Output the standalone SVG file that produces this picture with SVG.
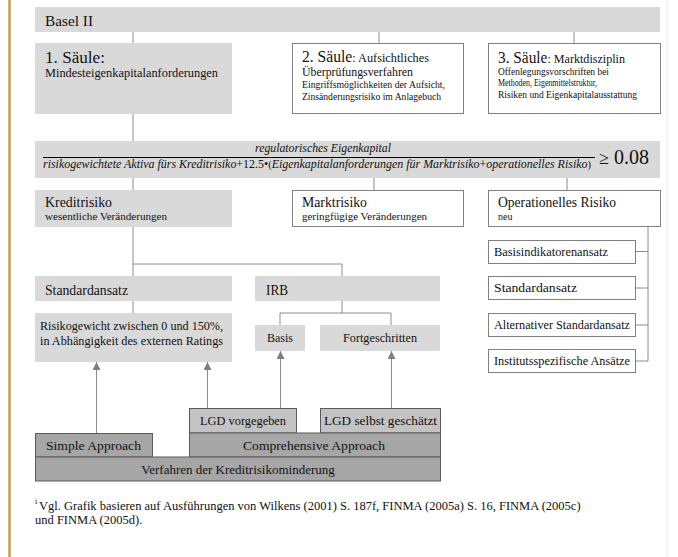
<svg xmlns="http://www.w3.org/2000/svg" width="678" height="557" viewBox="0 0 678 557">
<defs>
<style>
text{font-family:"Liberation Serif","Times New Roman",serif;fill:#111}
.g{fill:#d9d9d9}
.w{fill:#fff;stroke:#808080;stroke-width:1}
.m{fill:#c3c3c3;stroke:#5a5a5a;stroke-width:1}
.d{fill:#a6a6a6;stroke:#5a5a5a;stroke-width:1}
.ln{stroke:#8c8c8c;stroke-width:1;fill:none}
.ar{stroke:#8c8c8c;stroke-width:1;fill:none;marker-end:url(#ah)}
.it{font-style:italic}
</style>
<marker id="ah" viewBox="0 0 10 10" refX="10" refY="5" markerWidth="8" markerHeight="8" markerUnits="userSpaceOnUse" orient="auto">
<path d="M0,0 L10,5 L0,10 Z" fill="#7f7f7f"/>
</marker>
</defs>
<rect width="678" height="557" fill="#fff"/>
<line x1="9.5" y1="0" x2="9.5" y2="557" stroke="#bf9f52" stroke-width="2.5"/>
<line x1="667" y1="0" x2="667" y2="557" stroke="#ececec" stroke-width="1"/>

<g id="connectors">
<path class="ln" d="M133,32V43 M379,32V43 M574,32V43"/>
<path class="ln" d="M133,114V141 M133,178V190 M374,178V190 M567,178V190"/>
<path class="ln" d="M133,227V276 M133,264H342V276 M133,301V313 M342,301V313 M280,325V313H391V325"/>
<path class="ln" d="M648,227V361 M636,251.5H648 M636,288H648 M636,325H648 M636,361H648"/>
<line class="ar" x1="96.5" y1="433" x2="96.5" y2="362"/>
<line class="ar" x1="207.5" y1="408" x2="207.5" y2="362"/>
<line class="ar" x1="280.5" y1="408" x2="280.5" y2="351"/>
<line class="ar" x1="391.5" y1="408" x2="391.5" y2="351"/>
</g>

<g id="basel2">
<rect class="g" x="35" y="7" width="625" height="25"/>
<text x="45" y="26" font-size="15" textLength="48" lengthAdjust="spacingAndGlyphs">Basel II</text>
</g>

<g id="saeule1">
<rect class="g" x="35" y="43" width="197" height="71"/>
<text x="45" y="63" font-size="16.5" textLength="60" lengthAdjust="spacingAndGlyphs">1. Säule:</text>
<text x="45" y="77" font-size="12.5" textLength="173" lengthAdjust="spacingAndGlyphs">Mindesteigenkapitalanforderungen</text>
</g>

<g id="saeule2">
<rect class="w" x="292.5" y="43.5" width="171" height="70"/>
<text x="302" y="62" textLength="127" lengthAdjust="spacingAndGlyphs"><tspan font-size="16.5">2. Säule</tspan><tspan font-size="13">: Aufsichtliches</tspan></text>
<text x="302" y="76" font-size="13" textLength="111" lengthAdjust="spacingAndGlyphs">Überprüfungsverfahren</text>
<text x="302" y="88" font-size="10" textLength="143" lengthAdjust="spacingAndGlyphs">Eingriffsmöglichkeiten der Aufsicht,</text>
<text x="302" y="100" font-size="10" textLength="139" lengthAdjust="spacingAndGlyphs">Zinsänderungsrisiko im Anlagebuch</text>
</g>

<g id="saeule3">
<rect class="w" x="488.5" y="43.5" width="172" height="70"/>
<text x="498" y="63" textLength="127" lengthAdjust="spacingAndGlyphs"><tspan font-size="16.5">3. Säule</tspan><tspan font-size="13">: Marktdisziplin</tspan></text>
<text x="498" y="75" font-size="10" textLength="111" lengthAdjust="spacingAndGlyphs">Offenlegungsvorschriften bei</text>
<text x="498" y="86" font-size="10" textLength="99" lengthAdjust="spacingAndGlyphs">Methoden, Eigenmittelstruktur,</text>
<text x="498" y="98" font-size="10" textLength="139" lengthAdjust="spacingAndGlyphs">Risiken und Eigenkapitalausstattung</text>
</g>

<g id="formel">
<rect class="g" x="35" y="141" width="625" height="37"/>
<text x="255" y="152" font-size="12.5" class="it" textLength="136" lengthAdjust="spacingAndGlyphs">regulatorisches Eigenkapital</text>
<line x1="43" y1="157.5" x2="595" y2="157.5" stroke="#000" stroke-width="1"/>
<text x="43" y="168" font-size="12.5" textLength="548" lengthAdjust="spacingAndGlyphs"><tspan class="it">risikogewichtete Aktiva fürs Kreditrisiko</tspan>+12.5•<tspan font-size="11">(</tspan><tspan class="it">Eigenkapitalanforderungen für Marktrisiko</tspan>+<tspan class="it">operationelles Risiko</tspan><tspan font-size="11">)</tspan></text>
<text x="599" y="164" font-size="20"><tspan font-size="18">≥</tspan> 0.08</text>
</g>

<g id="kreditrisiko">
<rect class="g" x="35" y="190" width="197" height="37"/>
<text x="45" y="207" font-size="15" textLength="67" lengthAdjust="spacingAndGlyphs">Kreditrisiko</text>
<text x="45" y="220" font-size="11" textLength="122" lengthAdjust="spacingAndGlyphs">wesentliche Veränderungen</text>
</g>

<g id="marktrisiko">
<rect class="w" x="292.5" y="190.5" width="171" height="36"/>
<text x="302" y="207" font-size="15" textLength="65" lengthAdjust="spacingAndGlyphs">Marktrisiko</text>
<text x="302" y="220" font-size="11" textLength="125" lengthAdjust="spacingAndGlyphs">geringfügige Veränderungen</text>
</g>

<g id="oprisiko">
<rect class="w" x="488.5" y="190.5" width="172" height="36"/>
<text x="498" y="207" font-size="15.5" textLength="118" lengthAdjust="spacingAndGlyphs">Operationelles Risiko</text>
<text x="498" y="220" font-size="10">neu</text>
</g>

<g id="standardansatz">
<rect class="g" x="35" y="276" width="197" height="25"/>
<text x="45" y="295" font-size="15" textLength="83" lengthAdjust="spacingAndGlyphs">Standardansatz</text>
</g>

<g id="irb">
<rect class="g" x="255" y="276" width="185" height="25"/>
<text x="266" y="295" font-size="15" textLength="22" lengthAdjust="spacingAndGlyphs">IRB</text>
</g>

<g id="risikogewicht">
<rect class="g" x="35" y="313" width="197" height="49"/>
<text x="40" y="330" font-size="12.5" textLength="183" lengthAdjust="spacingAndGlyphs">Risikogewicht zwischen 0 und 150%,</text>
<text x="40" y="345" font-size="12.5" textLength="183" lengthAdjust="spacingAndGlyphs">in Abhängigkeit des externen Ratings</text>
</g>

<g id="basis">
<rect class="g" x="255" y="325" width="50" height="26"/>
<text x="267" y="342" font-size="12.5" textLength="26" lengthAdjust="spacingAndGlyphs">Basis</text>
</g>

<g id="fortgeschritten">
<rect class="g" x="320" y="325" width="120" height="26"/>
<text x="343" y="342" font-size="12.5" textLength="74" lengthAdjust="spacingAndGlyphs">Fortgeschritten</text>
</g>

<g id="op-basisindikator">
<rect class="w" x="488.5" y="240.5" width="147" height="23"/>
<text x="494" y="256" font-size="12.5" textLength="114" lengthAdjust="spacingAndGlyphs">Basisindikatorenansatz</text>
</g>
<g id="op-standard">
<rect class="w" x="488.5" y="276.5" width="147" height="23"/>
<text x="494" y="292" font-size="12.5" textLength="83" lengthAdjust="spacingAndGlyphs">Standardansatz</text>
</g>
<g id="op-alternativ">
<rect class="w" x="488.5" y="313.5" width="147" height="23"/>
<text x="494" y="329" font-size="12.5" textLength="136" lengthAdjust="spacingAndGlyphs">Alternativer Standardansatz</text>
</g>
<g id="op-institut">
<rect class="w" x="488.5" y="349.5" width="147" height="23"/>
<text x="494" y="365" font-size="12.5" textLength="136" lengthAdjust="spacingAndGlyphs">Institutsspezifische Ansätze</text>
</g>

<g id="lgd-vorgegeben">
<rect class="m" x="189.5" y="408.5" width="107" height="24.5"/>
<text x="200" y="425" font-size="12.5" textLength="86" lengthAdjust="spacingAndGlyphs">LGD vorgegeben</text>
</g>
<g id="lgd-selbst">
<rect class="m" x="320.5" y="408.5" width="120" height="24.5"/>
<text x="324" y="425" font-size="12.5" textLength="113" lengthAdjust="spacingAndGlyphs">LGD selbst geschätzt</text>
</g>
<g id="simple">
<rect class="d" x="35.5" y="433.5" width="117" height="23.5"/>
<text x="46" y="450" font-size="13" textLength="95" lengthAdjust="spacingAndGlyphs">Simple Approach</text>
</g>
<g id="comprehensive">
<rect class="d" x="189.5" y="433" width="251" height="24"/>
<text x="243" y="450" font-size="13" textLength="142" lengthAdjust="spacingAndGlyphs">Comprehensive Approach</text>
</g>
<g id="verfahren">
<rect class="d" x="35.5" y="457" width="405" height="24"/>
<text x="238" y="474" font-size="13" text-anchor="middle">Verfahren der Kreditrisikominderung</text>
</g>

<g id="fussnote">
<text x="35" y="504" font-size="8">i</text>
<text x="39" y="510" font-size="12.5">Vgl. Grafik basieren auf Ausführungen von Wilkens (2001) S. 187f, FINMA (2005a) S. 16, FINMA (2005c)</text>
<text x="35" y="524" font-size="12.5">und FINMA (2005d).</text>
</g>
</svg>
